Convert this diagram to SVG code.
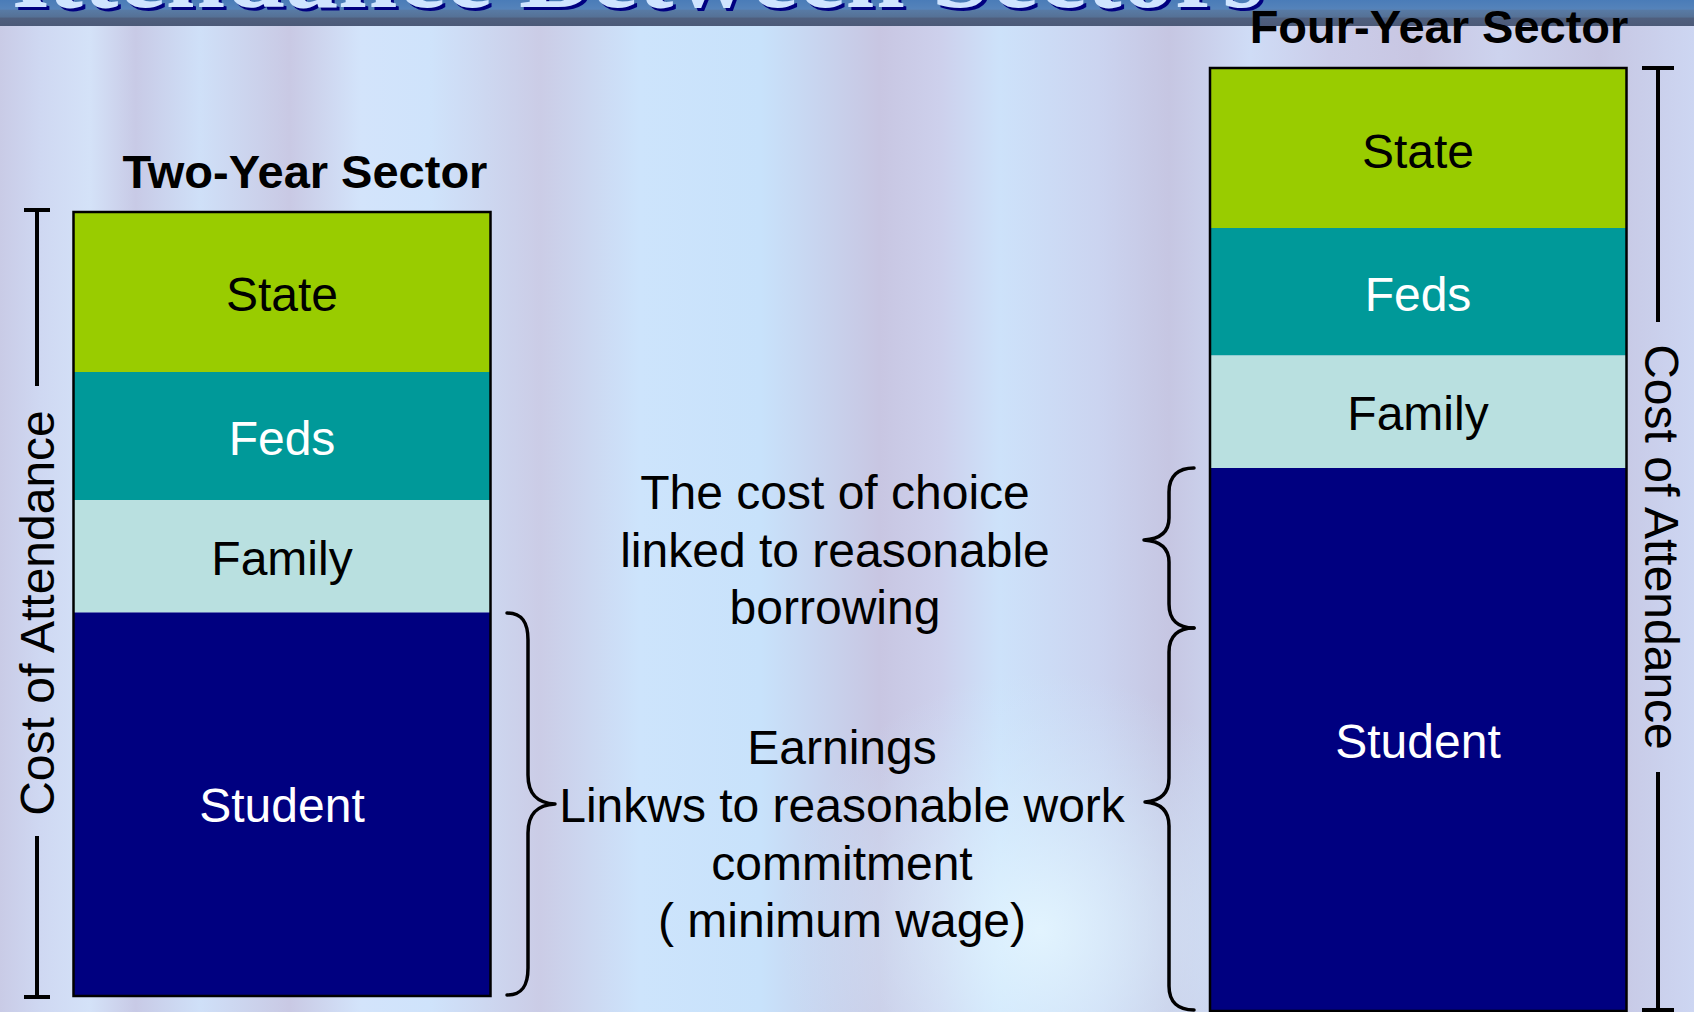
<svg xmlns="http://www.w3.org/2000/svg" width="1694" height="1012" viewBox="0 0 1694 1012">
  <defs>
    <linearGradient id="bgStreaks" x1="0" y1="0" x2="1694" y2="0" gradientUnits="userSpaceOnUse">
      <stop offset="0" stop-color="#c9cbe6"/>
      <stop offset="0.024" stop-color="#cfd8f2"/>
      <stop offset="0.053" stop-color="#d4e2f8"/>
      <stop offset="0.08" stop-color="#c8cae6"/>
      <stop offset="0.118" stop-color="#cfe0f8"/>
      <stop offset="0.171" stop-color="#c9c9e4"/>
      <stop offset="0.213" stop-color="#d3e4fb"/>
      <stop offset="0.254" stop-color="#cfe3fb"/>
      <stop offset="0.319" stop-color="#cbcce6"/>
      <stop offset="0.378" stop-color="#cde4fc"/>
      <stop offset="0.449" stop-color="#c8e2fb"/>
      <stop offset="0.519" stop-color="#c8c6e2"/>
      <stop offset="0.555" stop-color="#cdd0ec"/>
      <stop offset="0.59" stop-color="#cde2fa"/>
      <stop offset="0.649" stop-color="#cbd4f0"/>
      <stop offset="0.69" stop-color="#c6c6e2"/>
      <stop offset="0.738" stop-color="#cfdcf6"/>
      <stop offset="0.785" stop-color="#cbcde9"/>
      <stop offset="0.838" stop-color="#c8c6e2"/>
      <stop offset="0.885" stop-color="#cdd3ee"/>
      <stop offset="0.944" stop-color="#c6c6e2"/>
      <stop offset="1" stop-color="#cdd6f2"/>
    </linearGradient>
    <radialGradient id="glow" cx="1040" cy="930" r="260" gradientUnits="userSpaceOnUse">
      <stop offset="0" stop-color="#e4f6ff" stop-opacity="0.9"/>
      <stop offset="1" stop-color="#d0ecff" stop-opacity="0"/>
    </radialGradient>
    <linearGradient id="band" x1="0" y1="0" x2="0" y2="26" gradientUnits="userSpaceOnUse">
      <stop offset="0" stop-color="#4a7cb8"/>
      <stop offset="0.35" stop-color="#5583ba"/>
      <stop offset="0.4" stop-color="#587aa4"/>
      <stop offset="0.65" stop-color="#557196"/>
      <stop offset="0.7" stop-color="#4f5f7e"/>
      <stop offset="1" stop-color="#4c5a78"/>
    </linearGradient>
    <style>
      .lbl { font-family: "Liberation Sans", Arial, sans-serif; font-size: 48px; text-anchor: middle; }
      .ttl { font-family: "Liberation Sans", Arial, sans-serif; font-size: 47px; font-weight: bold; text-anchor: middle; fill: #000; }
      .dark { fill: #000; }
      .light { fill: #fff; }
      .seg { stroke: none; }
      .frame { fill: none; stroke: #000; stroke-width: 2.5; }
      .bar { fill: none; stroke: #000; stroke-width: 4; }
      .brace { fill: none; stroke: #000; stroke-width: 3.5; stroke-linecap: round; stroke-linejoin: round; }
      .note { font-family: "Liberation Sans", Arial, sans-serif; font-size: 48px; text-anchor: middle; fill: #000; }
      .head { font-family: "Liberation Serif", "Times New Roman", serif; font-size: 106px; font-weight: bold; }
    </style>
  </defs>

  <!-- background -->
  <rect x="0" y="0" width="1694" height="1012" fill="url(#bgStreaks)"/>
  <rect x="0" y="0" width="1694" height="1012" fill="url(#glow)"/>

  <!-- title band (cut off) -->
  <g id="title-band">
    <rect x="0" y="0" width="1694" height="26" fill="url(#band)"/>
    <text class="head" x="-27" y="9.5" textLength="1294" lengthAdjust="spacingAndGlyphs" fill="#000080">Attendance  Between Sectors</text>
    <text class="head" x="-30" y="6.5" textLength="1294" lengthAdjust="spacingAndGlyphs" fill="#cfe4ff">Attendance  Between Sectors</text>
  </g>

  <!-- Two-Year Sector -->
  <g id="two-year">
    <text class="ttl" x="305" y="188">Two-Year Sector</text>
    <g id="two-state">
      <rect class="seg" x="73.5" y="212" width="417" height="160" fill="#99cc00"/>
      <text class="lbl dark" x="282" y="311">State</text>
    </g>
    <g id="two-feds">
      <rect class="seg" x="73.5" y="372" width="417" height="128" fill="#009999"/>
      <text class="lbl light" x="282" y="455">Feds</text>
    </g>
    <g id="two-family">
      <rect class="seg" x="73.5" y="500" width="417" height="112.5" fill="#b9e0e0"/>
      <text class="lbl dark" x="282" y="575">Family</text>
    </g>
    <g id="two-student">
      <rect class="seg" x="73.5" y="612.5" width="417" height="383.5" fill="#000080"/>
      <text class="lbl light" x="282" y="822">Student</text>
    </g>
    <rect class="frame" x="73.5" y="212" width="417" height="784"/>
  </g>

  <!-- Two-Year cost of attendance scale -->
  <g id="two-cost">
    <path class="bar" d="M24,210 H50 M37,210 V386 M37,836 V997 M24,997 H50"/>
    <text class="lbl dark" transform="translate(54,613) rotate(-90)" x="0" y="0">Cost of Attendance</text>
  </g>

  <!-- Four-Year Sector -->
  <g id="four-year">
    <text class="ttl" x="1439" y="43">Four-Year Sector</text>
    <g id="four-state">
      <rect class="seg" x="1210" y="68" width="416.5" height="160" fill="#99cc00"/>
      <text class="lbl dark" x="1418" y="167.5">State</text>
    </g>
    <g id="four-feds">
      <rect class="seg" x="1210" y="228" width="416.5" height="127.5" fill="#009999"/>
      <text class="lbl light" x="1418" y="311">Feds</text>
    </g>
    <g id="four-family">
      <rect class="seg" x="1210" y="355.5" width="416.5" height="112.5" fill="#b9e0e0"/>
      <text class="lbl dark" x="1418" y="430">Family</text>
    </g>
    <g id="four-student">
      <rect class="seg" x="1210" y="468" width="416.5" height="543" fill="#000080"/>
      <text class="lbl light" x="1418" y="758">Student</text>
    </g>
    <rect class="frame" x="1210" y="68" width="416.5" height="943"/>
  </g>

  <!-- Four-Year cost of attendance scale -->
  <g id="four-cost">
    <path class="bar" d="M1642,68 H1674 M1658,68 V322 M1658,772 V1010 M1642,1010 H1674"/>
    <text class="lbl dark" transform="translate(1645,547) rotate(90)" x="0" y="0">Cost of Attendance</text>
  </g>

  <!-- annotations -->
  <g id="note-borrowing">
    <text class="note" x="835" y="509">The cost of choice</text>
    <text class="note" x="835" y="567">linked to reasonable</text>
    <text class="note" x="835" y="624">borrowing</text>
  </g>
  <g id="note-earnings">
    <text class="note" x="842" y="764">Earnings</text>
    <text class="note" x="842" y="822">Linkws to reasonable work</text>
    <text class="note" x="842" y="880">commitment</text>
    <text class="note" x="842" y="937">( minimum wage)</text>
  </g>

  <!-- connectors (braces) -->
  <g id="connectors">
    <path class="brace" d="M507,613 C522,613 528,622 528,640 L528,775 C528,795 538,803 555,804 C538,805 528,813 528,833 L528,968 C528,986 522,995 507,995"/>
    <path class="brace" d="M1194,468 C1178,468 1169,476 1169,492 L1169,518 C1169,532 1160,539 1144,540 C1160,541 1169,548 1169,562 L1169,604 C1169,620 1178,628 1194,628"/>
    <path class="brace" d="M1194,628 C1178,628 1169,636 1169,652 L1169,778 C1169,794 1160,801 1145,802 C1160,803 1169,810 1169,826 L1169,986 C1169,1002 1178,1010 1194,1010"/>
  </g>
</svg>
